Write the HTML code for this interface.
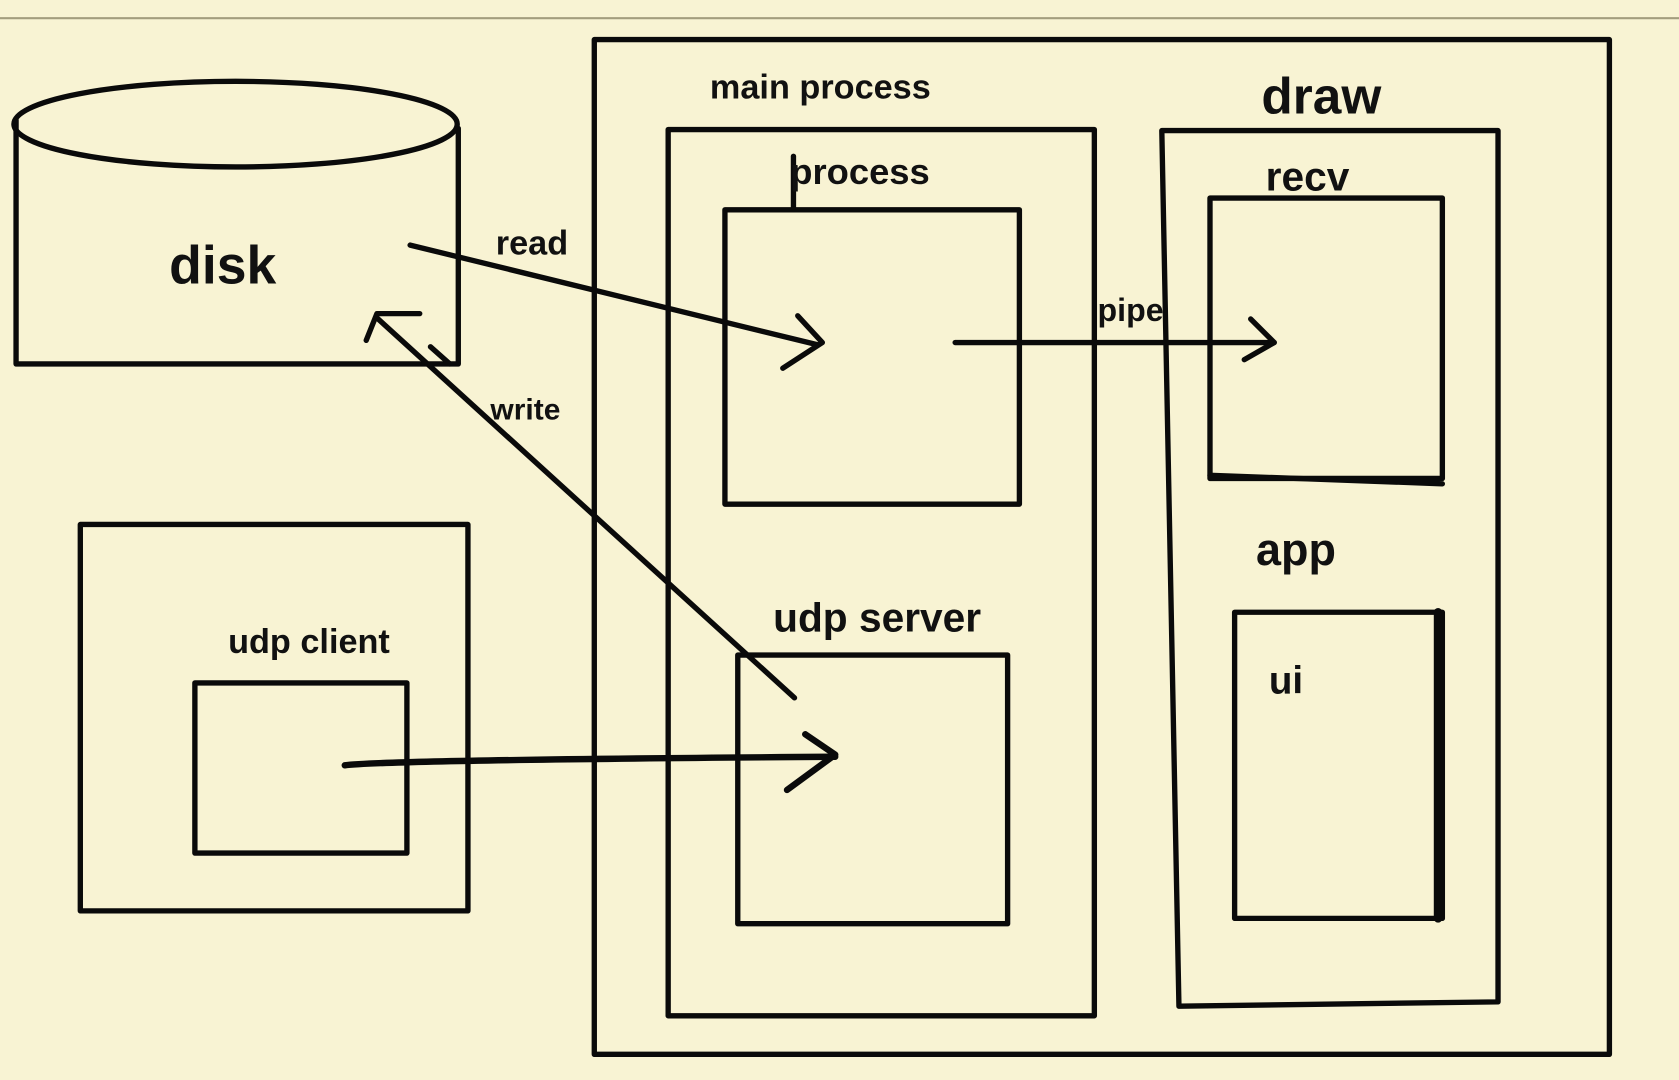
<!DOCTYPE html>
<html><head><meta charset="utf-8"><style>
html,body{margin:0;padding:0;background:#f8f3d3;}
svg{display:block}
text{font-family:"Liberation Sans",sans-serif;fill:#111;font-weight:bold;}
</style></head><body>
<svg width="1679" height="1080" viewBox="0 0 1568 1009" preserveAspectRatio="none">
<rect width="1568" height="1009" fill="#f8f3d3"/>
<line x1="0" y1="17" x2="1568" y2="17" stroke="#a39d7e" stroke-width="2"/>
<g fill="none" stroke="#0a0a0a" stroke-width="5" stroke-linecap="round" stroke-linejoin="round">
<ellipse cx="220" cy="116" rx="207" ry="40"/>
<path d="M15 112 V340 H428 V120"/>
<rect x="75" y="490" width="362" height="361"/>
<rect x="182" y="638" width="198" height="159"/>
<rect x="555" y="37" width="948" height="948"/>
<rect x="624" y="121" width="398" height="828"/>
<rect x="677" y="196" width="275" height="275"/>
<path d="M741 196 V146"/>
<rect x="689" y="612" width="252" height="251"/>
<path d="M1085 122 H1399 V936 L1101 940 Z"/>
<rect x="1130" y="185" width="217" height="262"/>
<path d="M1130 444 L1347 452"/>
<rect x="1153" y="572" width="194" height="286"/>
<path d="M1343 572 V858" stroke-width="8"/>
<path d="M383 229 L763 322"/>
<path d="M745 295 L768 320 L731 344"/>
<path d="M892 320 H1190"/>
<path d="M1168 298 L1190 320 L1162 336"/>
<path d="M322 715 Q360 710 780 707" stroke-width="6"/>
<path d="M752 686 L780 705 L735 738" stroke-width="6"/>
<path d="M742 652 L352 297"/>
<path d="M342 318 L352 293 L392 293"/>
<path d="M402 324 L420 340"/>
</g>
<g>
<text x="158" y="265" font-size="50">disk</text>
<text x="463" y="238" font-size="32">read</text>
<text x="458" y="392" font-size="28">write</text>
<text x="663" y="92" font-size="32">main process</text>
<text x="738" y="172" font-size="34">process</text>
<text x="1178" y="106" font-size="48">draw</text>
<text x="1182" y="178" font-size="38">recv</text>
<text x="1025" y="300" font-size="30">pipe</text>
<text x="722" y="590" font-size="38">udp server</text>
<text x="213" y="610" font-size="32">udp client</text>
<text x="1173" y="528" font-size="42">app</text>
<text x="1185" y="648" font-size="36">ui</text>
</g>
</svg>
</body></html>
